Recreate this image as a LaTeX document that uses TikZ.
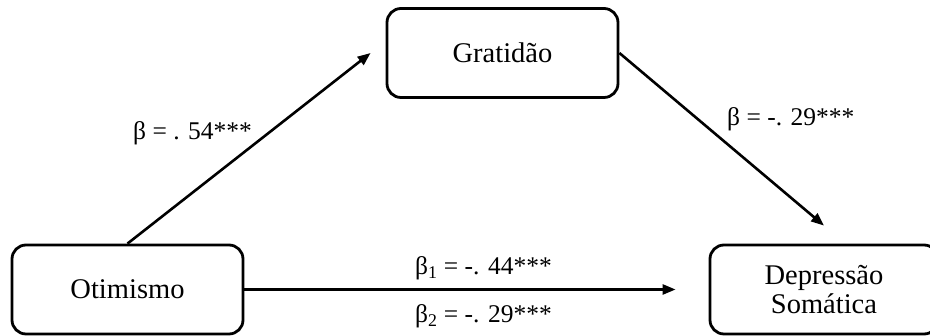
\documentclass[tikz,border=0pt]{standalone}
\usepackage{fontspec}
\setmainfont{Liberation Serif}
\usetikzlibrary{arrows.meta}
\begin{document}
\begin{tikzpicture}[x=1pt, y=1pt,
  caixa/.style={draw, line width=2.8pt, rounded corners=14pt, minimum width=231pt,
    minimum height=89pt, align=center, inner sep=0pt, font=\fontsize{28.5}{29}\selectfont},
  seta/.style={line width=2.6pt, -{Triangle[length=13pt, width=10pt]}},
  rotulo/.style={anchor=base west, inner sep=0pt, font=\fontsize{25.5}{30}\selectfont}]
  \useasboundingbox (0,0) rectangle (930,336);
  \clip (0,0) rectangle (930,336);

  % Variáveis
  \node[caixa] (otim) at (127.5,46.5) {Otimismo};
  \node[caixa] (grat) at (502.5,283) {Gratidão};
  \node[caixa, minimum width=228pt] (depr) at (824,46.5) {Depressão\\Somática};

  % Pontas das setas
  \coordinate (fimGrat) at ([xshift=-15pt]grat.west);
  \coordinate (fimDepr) at ([yshift=18pt]depr.north);

  % Caminhos
  \draw[seta] (otim.north) -- (fimGrat);
  \draw[seta] (grat.east) -- (fimDepr);
  \draw[seta, shorten >=33pt] (otim.east) -- (depr.west);

  % Coeficientes
  \node[rotulo] (betaA) at (133,196) {β = . 54***};
  \node[rotulo] (betaB) at (727,210) {β = -. 29***};
  \node[rotulo] (betaC) at (415,61) {β\textsubscript{1} = -. 44***};
  \node[rotulo] (betaD) at (415,13) {β\textsubscript{2} = -. 29***};
\end{tikzpicture}
\end{document}
